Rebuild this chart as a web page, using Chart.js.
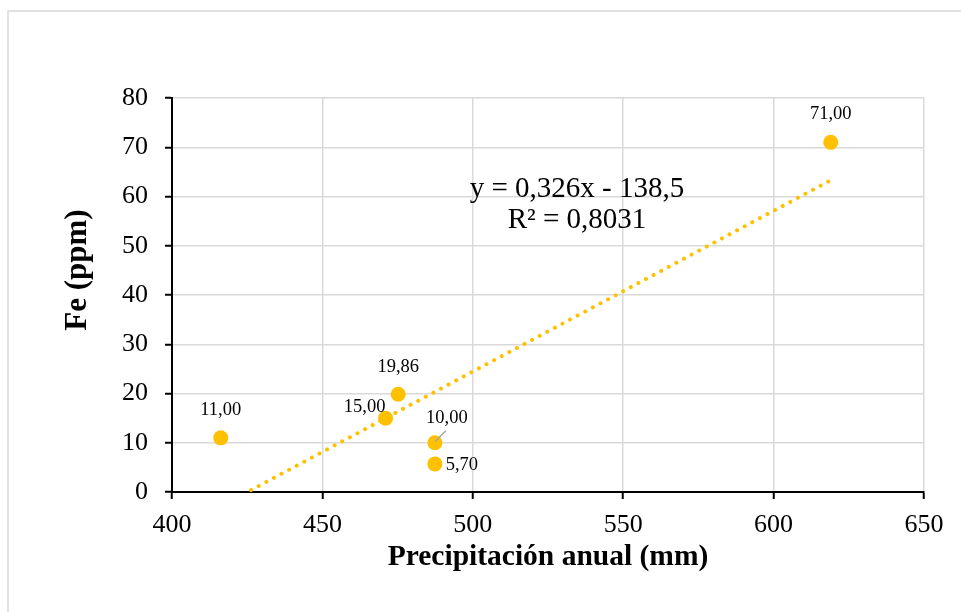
<!DOCTYPE html>
<html>
<head>
<meta charset="utf-8">
<script src="https://cdn.jsdelivr.net/npm/chart.js@4.4.1/dist/chart.umd.min.js"></script>
<style>
  html, body { margin: 0; padding: 0; background: #ffffff; }
  #wrap { position: absolute; left: 0; top: 0; width: 961px; height: 612px; }
</style>
</head>
<body>
<div id="wrap"><canvas id="c" width="961" height="612"></canvas></div>
<script>
// ---- data ----
const precipitation = [416.2, 471.0, 475.2, 487.4, 487.4, 619.0];   // mm
const feValues      = [11.00, 15.00, 19.86, 10.00, 5.70, 71.00];    // ppm
const pointLabels   = ['11,00', '15,00', '19,86', '10,00', '5,70', '71,00'];
const xTickValues   = [400, 450, 500, 550, 600, 650];
const yTickValues   = [0, 10, 20, 30, 40, 50, 60, 70, 80];
const trendX        = [416.2, 619.0];
const trendY        = [-2.9, 63.3];
const trendEquation = 'y = 0,326x - 138,5';
const trendR2       = 'R² = 0,8031';
const xTitle        = 'Precipitación anual (mm)';
const yTitle        = 'Fe (ppm)';

// ---- label placement (style, pixel offsets from each point) ----
const labelOffsets = [[0, -23], [-21, -6], [0, -22], [12, -20], [27, 6], [0, -23]];

const GOLD = '#FFC000';
const SERIF = '"Liberation Serif", "Times New Roman", serif';

const scatterData = precipitation.map((x, i) => ({ x: x, y: feValues[i] }));
const trendData = trendX.map((x, i) => ({ x: x, y: trendY[i] }));

const decorPlugin = {
  id: 'decor',
  beforeDraw(chart) {
    const ctx = chart.ctx;
    ctx.save();
    ctx.fillStyle = '#ffffff';
    ctx.fillRect(0, 0, chart.width, chart.height);
    ctx.strokeStyle = '#d9d9d9';
    ctx.lineWidth = 1.5;
    ctx.beginPath();
    ctx.moveTo(8, chart.height);
    ctx.lineTo(8, 11);
    ctx.lineTo(chart.width, 11);
    ctx.stroke();
    ctx.restore();
  },
  afterDraw(chart) {
    const ctx = chart.ctx;
    ctx.save();
    // y axis title
    ctx.fillStyle = '#000';
    ctx.font = 'bold 31px ' + SERIF;
    ctx.textAlign = 'center';
    ctx.textBaseline = 'middle';
    ctx.translate(78, 270);
    ctx.rotate(-Math.PI / 2);
    ctx.fillText(yTitle, 0, 0);
    ctx.setTransform(1, 0, 0, 1, 0, 0);

    // trendline equation
    ctx.font = '29px ' + SERIF;
    ctx.textBaseline = 'alphabetic';
    ctx.fillText(trendEquation, 577, 197);
    ctx.fillText(trendR2, 577, 228);

    // data labels
    ctx.font = '18.5px ' + SERIF;
    const meta = chart.getDatasetMeta(1);
    meta.data.forEach((pt, i) => {
      const off = labelOffsets[i];
      const px = pt.x, py = pt.y;
      ctx.fillStyle = '#000';
      ctx.fillText(pointLabels[i], px + off[0], py + off[1]);
      if (i === 3) {
        ctx.strokeStyle = '#a6a6a6';
        ctx.lineWidth = 1.5;
        ctx.beginPath();
        ctx.moveTo(px, py - 1);
        ctx.lineTo(px + 11, py - 12);
        ctx.stroke();
      }
    });
    ctx.restore();
  }
};

new Chart(document.getElementById('c'), {
  type: 'scatter',
  data: {
    datasets: [
      {
        type: 'line',
        label: 'Tendencia',
        data: trendData,
        borderColor: GOLD,
        borderWidth: 4,
        borderDash: [0.01, 8.6],
        borderCapStyle: 'round',
        pointRadius: 0,
        fill: false,
        tension: 0,
        order: 2
      },
      {
        label: 'Fe',
        data: scatterData,
        backgroundColor: GOLD,
        borderColor: GOLD,
        borderWidth: 0,
        pointRadius: 7.5,
        pointHoverRadius: 7.5,
        order: 1
      }
    ]
  },
  options: {
    responsive: false,
    animation: false,
    devicePixelRatio: 1,
    layout: { padding: { left: 0, right: 37, top: 98, bottom: 0 } },
    plugins: {
      legend: { display: false },
      tooltip: { enabled: false },
      title: { display: false }
    },
    scales: {
      x: {
        type: 'linear',
        min: 400,
        max: 650,
        afterBuildTicks(scale) { scale.ticks = xTickValues.map(v => ({ value: v })); },
        afterFit(scale) { scale.height = 120; },
        grid: { color: '#d9d9d9', lineWidth: 1.5, tickColor: '#000', tickLength: 7, tickWidth: 2 },
        border: { color: '#000', width: 2 },
        ticks: { color: '#000', font: { family: SERIF, size: 26 }, padding: 11, maxRotation: 0 },
        title: {
          display: true,
          text: xTitle,
          color: '#000',
          font: { family: SERIF, size: 29.5, weight: 'bold', lineHeight: 1 },
          padding: { top: 0, bottom: 40 }
        }
      },
      y: {
        type: 'linear',
        min: 0,
        max: 80,
        afterBuildTicks(scale) { scale.ticks = yTickValues.map(v => ({ value: v })); },
        afterFit(scale) { scale.width = 172; },
        grid: { color: '#d9d9d9', lineWidth: 1.5, tickColor: '#000', tickLength: 7, tickWidth: 2 },
        border: { color: '#000', width: 2 },
        ticks: { color: '#000', font: { family: SERIF, size: 26 }, padding: 17 }
      }
    }
  },
  plugins: [decorPlugin]
});
</script>
</body>
</html>
